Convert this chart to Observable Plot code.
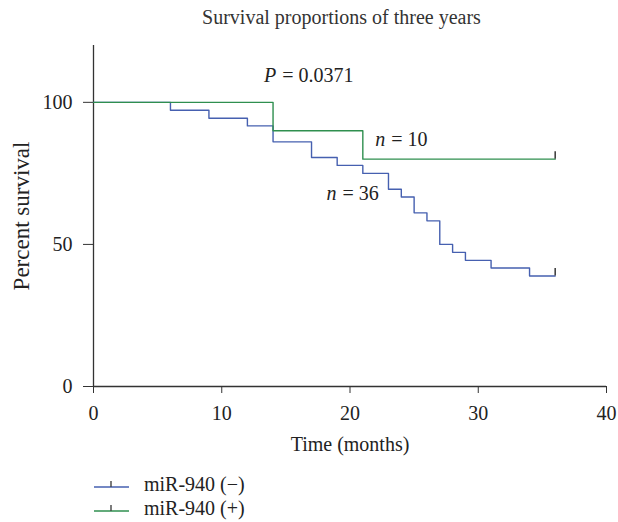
<!DOCTYPE html>
<html>
<head>
<meta charset="utf-8">
<script src="https://cdn.jsdelivr.net/npm/d3@7"></script>
<script src="https://cdn.jsdelivr.net/npm/@observablehq/plot@0.6"></script>
<style>
  body { margin: 0; background: #fff; font-family: "Liberation Serif", serif; color: #222; }
  #title { height: 40px; line-height: 35px; font-size: 20px; text-align: center; padding-left: 85px; width: 513px; box-sizing: content-box; color: #333; }
  #legend { padding-left: 94px; margin-top: 12px; font-size: 20px; color: #222; }
  .row { display: flex; align-items: center; height: 24px; }
  .row svg { margin-right: 14px; }
</style>
</head>
<body>
<div id="title">Survival proportions of three years</div>
<div id="chart"></div>
<div id="legend"></div>
<script>
// Data
const seriesNames = ["miR-940 (−)", "miR-940 (+)"];
const seriesColors = ["#4660b0", "#2f8f4f"];
const negTimes = [0, 6, 9, 12, 14, 17, 19, 21, 23, 24, 25, 26, 27, 28, 29, 31, 34, 36];
const negSurv  = [100, 97.2, 94.4, 91.7, 86.1, 80.6, 77.8, 75, 69.4, 66.7, 61.1, 58.3, 50, 47.2, 44.4, 41.7, 38.9, 38.9];
const posTimes = [0, 14, 21, 36];
const posSurv  = [100, 90, 80, 80];
const xTicks = [0, 10, 20, 30, 40];
const yTicks = [0, 50, 100];
const xDomain = [0, 40];
const yDomain = [0, 120];
const annotItalic = ["P", "n", "n"];
const annotRest = ["= 0.0371", "= 10", "= 36"];
const annotX = [14.4, 22.9, 19.1];
const annotY = [109.5, 87, 67.8];

const curves = [
  ...negTimes.map((t, i) => ({series: seriesNames[0], t, s: negSurv[i]})),
  ...posTimes.map((t, i) => ({series: seriesNames[1], t, s: posSurv[i]}))
];
const censor = [
  {series: seriesNames[0], t: negTimes[negTimes.length - 1], s: negSurv[negSurv.length - 1]},
  {series: seriesNames[1], t: posTimes[posTimes.length - 1], s: posSurv[posSurv.length - 1]}
];
const annots = annotItalic.map((a, i) => ({a, r: annotRest[i], x: annotX[i], y: annotY[i]}));

const chart = Plot.plot({
  width: 618,
  height: 420,
  marginLeft: 93,
  marginRight: 12,
  marginTop: 5,
  marginBottom: 74,
  style: {fontFamily: "Liberation Serif", fontSize: "20px", color: "#222", background: "#fff"},
  x: {domain: xDomain},
  y: {domain: yDomain},
  color: {domain: seriesNames, range: seriesColors},
  marks: [
    Plot.axisX({ticks: xTicks, tickSize: 7, tickPadding: 12, fontSize: 20, label: "Time (months)", labelAnchor: "center", labelArrow: "none", labelOffset: 64, stroke: "#333", fill: "#222"}),
    Plot.axisY({ticks: yTicks, tickSize: 10, tickPadding: 11, fontSize: 20, label: null, stroke: "#333", fill: "#222"}),
    Plot.axisY({ticks: [], tickSize: 0, fontSize: 23, label: "Percent survival", labelAnchor: "center", labelArrow: "none", labelOffset: 81, fill: "#222"}),
    Plot.ruleY([0], {stroke: "#333", strokeWidth: 1.3}),
    Plot.ruleX([0], {stroke: "#333", strokeWidth: 1.3}),
    Plot.line(curves, {x: "t", y: "s", z: "series", stroke: "series", curve: "step-after", strokeWidth: 1.4}),
    Plot.ruleX(censor, {x: "t", y1: "s", y2: d => d.s + 2.6, stroke: "#444", strokeWidth: 1.6}),
    Plot.text(annots, {x: "x", y: "y", text: "a", textAnchor: "end", dx: -2, fontStyle: "italic", fontSize: 20, fill: "#222"}),
    Plot.text(annots, {x: "x", y: "y", text: "r", textAnchor: "start", dx: 4, fontSize: 20, fill: "#222"})
  ]
});
document.getElementById("chart").appendChild(chart);

const legend = document.getElementById("legend");
seriesNames.forEach((name, i) => {
  const row = document.createElement("div");
  row.className = "row";
  row.innerHTML = `<svg width="36" height="12"><line x1="0" y1="9" x2="35" y2="9" stroke="${seriesColors[i]}" stroke-width="1.4"/><line x1="17" y1="9" x2="17" y2="3" stroke="#444" stroke-width="1.4"/></svg><span>${name}</span>`;
  legend.appendChild(row);
});
</script>
</body>
</html>
